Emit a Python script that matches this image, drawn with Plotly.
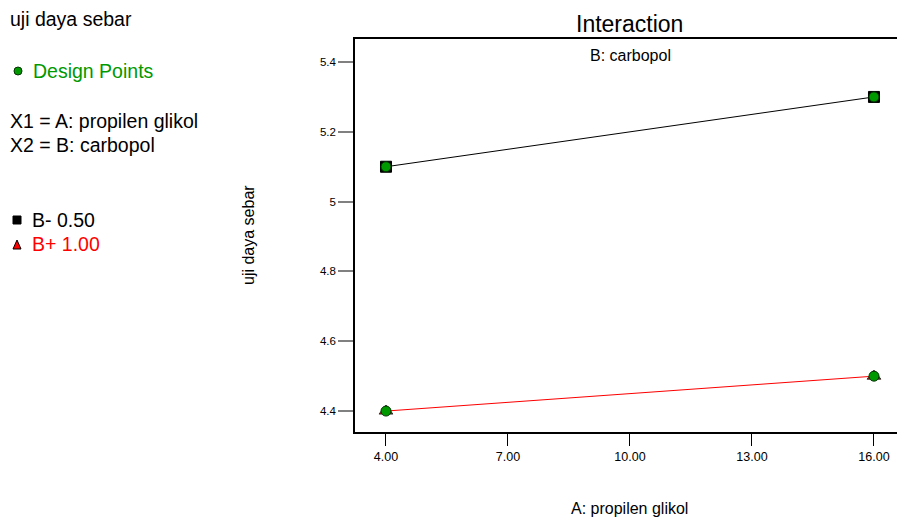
import plotly.graph_objects as go

# Data
A_levels = [4.0, 16.0]
B_minus = [5.1, 5.3]   # B- 0.50
B_plus = [4.4, 4.5]    # B+ 1.00
design_x = [4.0, 16.0, 4.0, 16.0]
design_y = [5.1, 5.3, 4.4, 4.5]
x_ticks = [4, 7, 10, 13, 16]
x_ticklabels = ["4.00", "7.00", "10.00", "13.00", "16.00"]
y_ticks = [4.4, 4.6, 4.8, 5.0, 5.2, 5.4]
y_ticklabels = ["4.4", "4.6", "4.8", "5", "5.2", "5.4"]

W, H = 897, 518
L, R, T, B = 355, 0, 39, 86
PW, PH = W - L - R, H - T - B

def px(x):
    return (x - L) / PW

def py(y):
    return (H - B - y) / PH

FONT = "Liberation Sans, Arial, sans-serif"
GREEN = "#009900"

fig = go.Figure()
fig.add_trace(go.Scatter(x=A_levels, y=B_minus, mode="lines+markers",
                         line=dict(color="black", width=1),
                         marker=dict(symbol="square", size=11, color="black",
                                     line=dict(color="black", width=1)),
                         showlegend=False))
fig.add_trace(go.Scatter(x=A_levels, y=B_plus, mode="lines+markers",
                         line=dict(color="red", width=1),
                         marker=dict(symbol="triangle-up", size=12, color="#cc0000",
                                     line=dict(color="#333333", width=1)),
                         showlegend=False))
fig.add_trace(go.Scatter(x=design_x, y=design_y, mode="markers",
                         marker=dict(symbol="circle", size=10, color=GREEN,
                                     line=dict(color="#003300", width=1)),
                         showlegend=False))

ann = []
def text(x, y, s, size, color="black", xanchor="left", angle=0):
    ann.append(dict(x=px(x), y=py(y), xref="paper", yref="paper", text=s,
                    showarrow=False, xanchor=xanchor, yanchor="middle",
                    textangle=angle,
                    font=dict(family=FONT, size=size, color=color)))

text(8, 19, "uji daya sebar", 19.5)
text(31, 71, "Design Points", 19.5, GREEN)
text(8, 121, "X1 = A: propilen glikol", 19.5)
text(8, 145, "X2 = B: carbopol", 19.5)
text(30, 220, "B- 0.50", 19.5)
text(30, 244, "B+ 1.00", 19.5, "red")
text(629, 24, "Interaction", 23, xanchor="center")
text(630, 55, "B: carbopol", 16, xanchor="center")
text(629, 508, "A: propilen glikol", 16, xanchor="center")
text(248, 235, "uji daya sebar", 16, xanchor="center", angle=-90)

shapes = [
    dict(type="circle", xref="paper", yref="paper",
         x0=px(14), x1=px(22), y0=py(75), y1=py(67),
         fillcolor=GREEN, line=dict(color="#003300", width=1)),
    dict(type="rect", xref="paper", yref="paper",
         x0=px(13), x1=px(21), y0=py(224), y1=py(216),
         fillcolor="black", line=dict(color="black", width=1)),
    dict(type="path", xref="paper", yref="paper",
         path=f"M {px(13)},{py(249)} L {px(21)},{py(249)} L {px(17)},{py(240)} Z",
         fillcolor="red", line=dict(color="black", width=1)),
]

fig.update_layout(
    width=W, height=H,
    margin=dict(l=L, r=R, t=T, b=B),
    paper_bgcolor="white", plot_bgcolor="white",
    showlegend=False,
    annotations=ann, shapes=shapes,
    font=dict(family=FONT, size=12, color="black"),
)
fig.update_xaxes(range=[3.238, 16.566], tickvals=x_ticks, ticktext=x_ticklabels,
                 showgrid=False, zeroline=False, showline=True, linecolor="black",
                 linewidth=1.5, mirror=True, ticks="outside", ticklen=12,
                 tickcolor="black", tickwidth=1, tickfont=dict(size=12.5))
fig.update_yaxes(range=[4.34, 5.466], tickvals=y_ticks, ticktext=y_ticklabels,
                 showgrid=False, zeroline=False, showline=True, linecolor="black",
                 linewidth=1.5, mirror=False, ticks="outside", ticklen=15,
                 tickcolor="#808080", tickwidth=1.5, tickfont=dict(size=11.5))

fig.write_html("out.html")
